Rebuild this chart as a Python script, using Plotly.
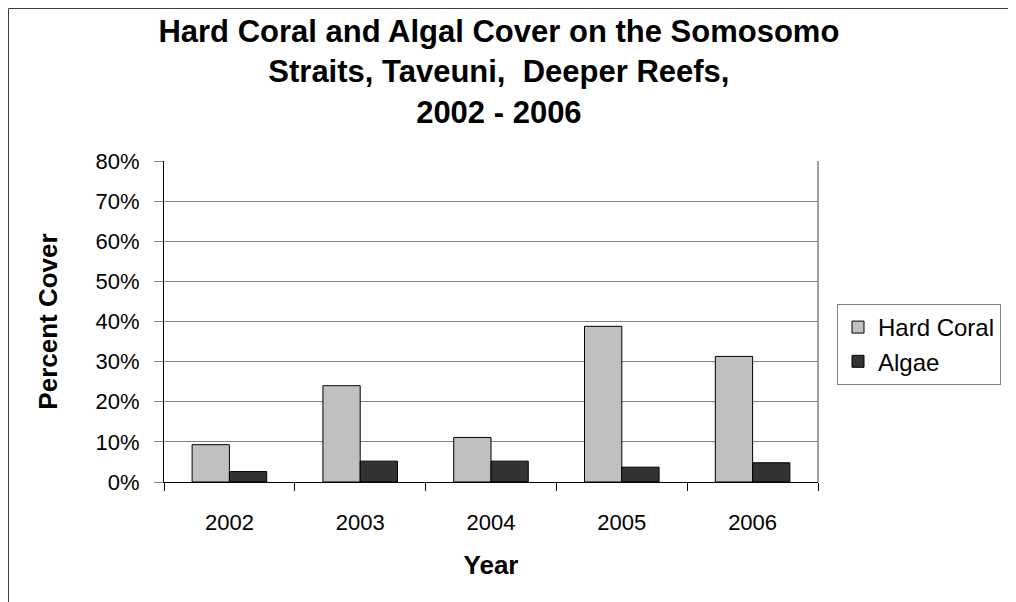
import plotly.graph_objects as go

years = ["2002", "2003", "2004", "2005", "2006"]
hard_coral = [0.093, 0.240, 0.111, 0.388, 0.313]
algae = [0.026, 0.052, 0.052, 0.037, 0.048]

FONT = "Arial, Liberation Sans, sans-serif"

# page has an 8px body margin, so the figure is 1008x594
W, H = 1008, 594
# plot area in figure pixels: x 156..810, y 153..474
L, R, T, B = 156, 198, 153, 120
PW, PH = W - L - R, H - T - B

fig = go.Figure()
fig.add_trace(go.Bar(
    x=years, y=hard_coral, name="Hard Coral",
    marker=dict(color="#C0C0C0", line=dict(color="black", width=1)),
))
fig.add_trace(go.Bar(
    x=years, y=algae, name="Algae",
    marker=dict(color="#333333", line=dict(color="black", width=1)),
))

fig.update_layout(
    width=W, height=H,
    margin=dict(l=L, r=R, t=T, b=B),
    paper_bgcolor="white", plot_bgcolor="white",
    font=dict(family=FONT, size=22, color="black"),
    barmode="group", bargap=0.43, bargroupgap=0,
    title=dict(
        text="Hard Coral and Algal Cover on the Somosomo<br>Straits, Taveuni,  Deeper Reefs,<br>2002 - 2006",
        x=0.487, xanchor="center", y=1 - 34 / H, yanchor="middle",
        font=dict(family=FONT, size=31, color="black", weight="bold"),
    ),
    legend=dict(
        x=(829 - L) / PW, xanchor="left", y=(474 - 296) / PH, yanchor="top",
        bordercolor="#808080", borderwidth=1, bgcolor="white",
        font=dict(size=24), tracegroupgap=0,
    ),
    xaxis=dict(
        title=dict(text="<b>Year</b>", standoff=21),
        showline=True, linecolor="black", linewidth=1,
        ticks="outside", tickson="boundaries", ticklen=8, tickcolor="black",
        ticklabelstandoff=21,
        showgrid=False, mirror=False,
    ),
    yaxis=dict(
        title=dict(text="<b>Percent Cover</b>", standoff=30),
        range=[0, 0.8], dtick=0.1, tickformat=".0%",
        showline=True, linecolor="black", linewidth=1,
        ticks="outside", ticklen=9, tickcolor="#808080",
        ticklabelstandoff=10,
        showgrid=True, gridcolor="#808080", gridwidth=1,
    ),
    shapes=[
        # right border of the plot area
        dict(type="line", xref="paper", yref="paper", x0=1, x1=1, y0=0, y1=1,
             line=dict(color="#808080", width=1.5)),
        # outer chart frame
        dict(type="rect", xref="paper", yref="paper",
             x0=(0.5 - L) / PW, x1=(1030 - L) / PW,
             y0=(474 - 620) / PH, y1=(474 - 0.5) / PH,
             line=dict(color="#404040", width=1)),
    ],
)

fig.write_html("out.html")
